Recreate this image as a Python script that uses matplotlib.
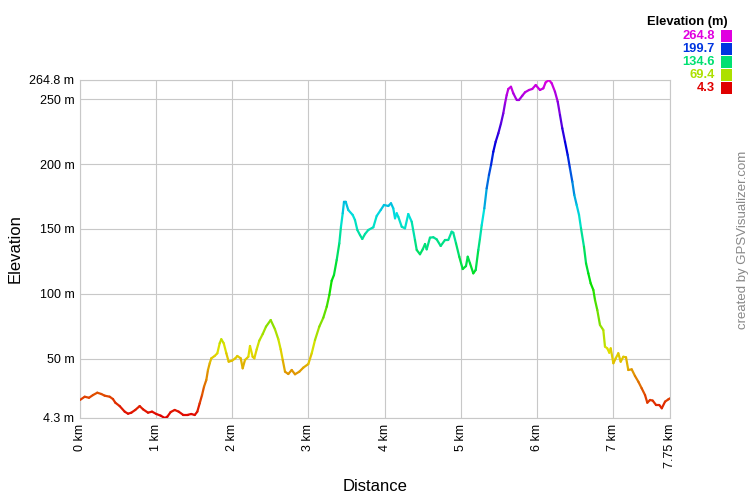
import numpy as np
import matplotlib
matplotlib.use("Agg")
import matplotlib.pyplot as plt
from matplotlib.collections import LineCollection
from matplotlib.colors import ListedColormap, Normalize, hsv_to_rgb
from matplotlib.patches import Rectangle

plt.rcParams['font.family'] = ['Liberation Sans', 'DejaVu Sans']

# ---- data ----
distance_km = [
    0.000, 0.062, 0.118, 0.171, 0.227, 0.280, 0.324, 0.390, 0.433, 0.464,
    0.521, 0.587, 0.631, 0.674, 0.726, 0.784, 0.828, 0.893, 0.946, 1.002,
    1.060, 1.113, 1.147, 1.191, 1.244, 1.296, 1.353, 1.419, 1.462, 1.507,
    1.541, 1.572, 1.603, 1.629, 1.659, 1.681, 1.704, 1.725, 1.769, 1.804,
    1.835, 1.856, 1.888, 1.922, 1.953, 1.997, 2.040, 2.066, 2.111, 2.137,
    2.167, 2.211, 2.233, 2.268, 2.290, 2.321, 2.355, 2.400, 2.443, 2.505,
    2.561, 2.605, 2.636, 2.663, 2.693, 2.736, 2.781, 2.824, 2.881, 2.933,
    2.999, 3.044, 3.087, 3.143, 3.196, 3.241, 3.275, 3.306, 3.336, 3.372,
    3.406, 3.428, 3.451, 3.468, 3.490, 3.524, 3.582, 3.612, 3.643, 3.678,
    3.708, 3.744, 3.787, 3.853, 3.897, 3.950, 3.993, 4.050, 4.085, 4.115,
    4.138, 4.160, 4.181, 4.226, 4.269, 4.312, 4.357, 4.400, 4.423, 4.466,
    4.502, 4.532, 4.554, 4.597, 4.641, 4.685, 4.738, 4.794, 4.838, 4.882,
    4.903, 4.939, 4.982, 5.027, 5.070, 5.093, 5.123, 5.166, 5.198, 5.232,
    5.254, 5.277, 5.311, 5.342, 5.372, 5.399, 5.429, 5.460, 5.495, 5.530,
    5.560, 5.583, 5.605, 5.626, 5.661, 5.692, 5.736, 5.767, 5.810, 5.845,
    5.898, 5.941, 5.986, 6.042, 6.086, 6.117, 6.161, 6.196, 6.239, 6.275,
    6.305, 6.335, 6.371, 6.406, 6.436, 6.467, 6.493, 6.524, 6.555, 6.581,
    6.620, 6.647, 6.677, 6.708, 6.743, 6.765, 6.795, 6.830, 6.874, 6.896,
    6.926, 6.953, 6.971, 7.006, 7.037, 7.071, 7.102, 7.137, 7.172, 7.202,
    7.247, 7.290, 7.334, 7.378, 7.422, 7.452, 7.488, 7.523, 7.567, 7.610,
    7.642, 7.685, 7.729, 7.750,
]
elevation_m = [
    18.2, 20.7, 19.9, 22.0, 23.8, 22.8, 21.5, 20.7, 18.9, 16.1,
    13.5, 9.2, 7.6, 8.4, 10.5, 13.5, 11.0, 8.4, 9.2, 7.4,
    6.1, 4.3, 5.3, 8.9, 10.5, 9.2, 6.8, 6.8, 7.4, 6.6,
    9.2, 15.6, 22.0, 28.4, 33.6, 41.3, 46.5, 50.3, 52.1, 54.2,
    61.9, 65.0, 61.9, 54.2, 47.7, 48.5, 50.3, 52.1, 50.3, 42.6,
    49.0, 51.5, 59.8, 51.5, 50.3, 57.2, 63.9, 69.0, 74.7, 79.8,
    72.7, 65.0, 57.2, 49.0, 40.0, 38.2, 41.3, 38.0, 40.0, 43.1,
    45.9, 54.2, 64.4, 74.7, 81.6, 90.1, 99.1, 110.1, 114.5, 126.1,
    138.9, 151.7, 162.1, 171.0, 171.0, 164.6, 160.8, 156.9, 149.2, 145.3,
    142.3, 146.1, 149.2, 151.3, 160.0, 164.6, 168.5, 167.7, 169.8, 165.9,
    158.2, 162.1, 159.4, 151.7, 150.5, 161.5, 155.6, 141.5, 133.8, 130.5,
    134.3, 138.4, 134.3, 143.3, 143.6, 142.0, 136.9, 141.5, 141.5, 147.9,
    147.1, 138.9, 128.6, 119.1, 121.4, 128.6, 123.5, 115.8, 118.4, 133.8,
    142.8, 153.0, 165.9, 181.3, 191.6, 199.3, 209.5, 217.2, 223.7, 231.4,
    239.1, 246.8, 253.2, 257.9, 259.6, 254.5, 249.4, 249.4, 252.7, 255.3,
    257.1, 257.9, 260.9, 257.1, 258.4, 263.0, 264.8, 262.3, 255.8, 248.1,
    237.8, 227.6, 217.2, 207.0, 196.7, 186.4, 176.2, 168.5, 160.8, 150.5,
    136.3, 123.5, 115.8, 108.1, 103.0, 95.2, 87.5, 76.0, 72.1, 59.3,
    58.0, 54.6, 58.0, 46.5, 50.3, 54.2, 47.7, 51.5, 51.1, 41.3,
    41.8, 36.7, 32.3, 27.2, 22.0, 16.1, 18.2, 17.7, 14.3, 14.3,
    11.8, 16.9, 18.7, 19.5,
]
x_ticks = [0, 1, 2, 3, 4, 5, 6, 7, 7.75]
x_tick_labels = ["0 km", "1 km", "2 km", "3 km", "4 km", "5 km", "6 km", "7 km", "7.75 km"]
y_ticks = [4.3, 50, 100, 150, 200, 250, 264.8]
y_tick_labels = ["4.3 m", "50 m", "100 m", "150 m", "200 m", "250 m", "264.8 m"]
legend_values = [264.8, 199.7, 134.6, 69.4, 4.3]
elev_min, elev_max = 4.3, 264.8

# ---- colour scale: hue 0 (red) -> 300 (magenta) ----
hues = np.linspace(0, 300 / 360, 256)
hsv = np.stack([hues, np.ones_like(hues), np.full_like(hues, 0.88)], axis=1)
cmap = ListedColormap(hsv_to_rgb(hsv))
norm = Normalize(vmin=elev_min, vmax=elev_max)

fig = plt.figure(figsize=(7.5, 5), dpi=100)
ax = fig.add_axes([80 / 750, 82 / 500, 590 / 750, 338 / 500])

grid_c = "#c8c8c8"
for s in ax.spines.values():
    s.set_color(grid_c)
    s.set_linewidth(0.8)

x = np.asarray(distance_km)
y = np.asarray(elevation_m)
pts = np.column_stack([x, y]).reshape(-1, 1, 2)
segs = np.concatenate([pts[:-1], pts[1:]], axis=1)
lc = LineCollection(segs, cmap=cmap, norm=norm, linewidths=1.6, capstyle="round", zorder=3)
lc.set_array((y[:-1] + y[1:]) / 2)
ax.add_collection(lc)

ax.set_xlim(0, 7.75)
ax.set_ylim(elev_min, elev_max)
ax.set_xticks(x_ticks)
ax.set_xticklabels(x_tick_labels, rotation=90, fontsize=9)
ax.set_yticks(y_ticks)
ax.set_yticklabels(y_tick_labels, fontsize=9)
ax.tick_params(length=0, pad=4, colors="black")
ax.grid(True, color=grid_c, linewidth=0.8, zorder=0)
ax.set_axisbelow(True)

ax.set_xlabel("Distance", fontsize=12)
ax.xaxis.set_label_coords(0.5, -0.18)
ax.set_ylabel("Elevation", fontsize=12)
ax.yaxis.set_label_coords(-0.098, 0.5)

# legend (colour key)
fig.text(728 / 750, 1 - 21.5 / 500, "Elevation (m)", ha="right", va="center",
         fontsize=9.3, fontweight="bold", color="black")
for i, v in enumerate(legend_values):
    yc = 1 - (36 + 13 * i) / 500
    col = cmap(norm(v))
    fig.text(715 / 750, yc, f"{v:.1f}", ha="right", va="center",
             fontsize=9.3, fontweight="bold", color=col)
    fig.patches.append(Rectangle((721 / 750, yc - 5.5 / 500), 11 / 750, 11 / 500,
                                 transform=fig.transFigure, facecolor=col,
                                 edgecolor="none", figure=fig))

fig.text(743 / 750, 1 - 240 / 500, "created by GPSVisualizer.com", rotation=90,
         ha="center", va="center", fontsize=9.5, color="#888888")

fig.savefig("out.png", dpi=100)
